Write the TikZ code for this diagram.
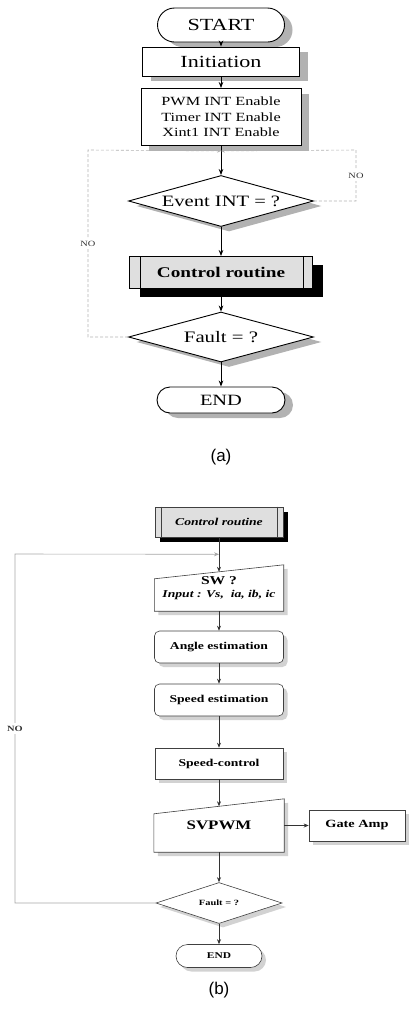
\documentclass[tikz,border=0pt]{standalone}
\usepackage{fontspec}
\setmainfont{Liberation Serif}[FakeStretch=1.3]
\newfontfamily\capfont{Liberation Sans}
\usetikzlibrary{positioning,shapes.geometric,shapes.misc,shadows,arrows.meta,calc,backgrounds}

\tikzset{
  base/.style={draw, line width=0.9pt, fill=white, inner sep=0pt, align=center},
  gshadow/.style={drop shadow={shadow xshift=8pt, shadow yshift=-5pt, fill=gray!60, opacity=1}},
  terminal/.style={base, gshadow, rounded rectangle},
  process/.style={base, gshadow, rectangle},
  decision/.style={base, gshadow, diamond, aspect=3.6},
  routine/.style={base, rectangle, fill=gray!25, drop shadow={shadow xshift=10pt, shadow yshift=-8pt, fill=black, opacity=1}},
  flow/.style={-{Stealth[length=6pt,width=4.5pt]}, line width=0.8pt},
  back/.style={-{Stealth[length=4pt,width=3.5pt]}, draw=gray!60, line width=0.6pt, densely dashed},
  nolabel/.style={fill=white, inner sep=3pt, text=black!80, font=\fontsize{8}{9}\selectfont},
  % part (b)
  bline/.style={draw=black!75, line width=0.6pt},
  lshadow/.style={drop shadow={shadow xshift=4pt, shadow yshift=-4pt, fill=gray!35, opacity=1}},
  bbase/.style={bline, fill=white, inner sep=0pt, align=center, font=\bfseries\fontsize{10.5}{12}\selectfont},
  bproc/.style={bbase, lshadow, rectangle, minimum width=129pt, minimum height=32pt},
  bdecision/.style={bbase, lshadow, diamond, aspect=3},
  bterminal/.style={bbase, lshadow, rounded rectangle},
  broutine/.style={bbase, fill=gray!25, drop shadow={shadow xshift=5pt, shadow yshift=-5pt, fill=black, opacity=1}},
  manual/.style={rectangle, inner sep=0pt, align=center, font=\bfseries\fontsize{10.5}{12}\selectfont},
  bflow/.style={-{Stealth[length=5pt,width=4pt]}, draw=black!80, line width=0.6pt},
  bback/.style={-{Stealth[length=5pt,width=4pt]}, draw=gray!70, line width=0.6pt},
  caption/.style={font=\capfont\fontsize{17}{20}\selectfont}
}

\begin{document}
\begin{tikzpicture}[x=1pt,y=-1pt,on grid]
  \useasboundingbox (0,0) rectangle (408,1010);

  % (a) main loop
  \node[terminal, minimum width=127pt, minimum height=34pt, font=\fontsize{17}{20}\selectfont] (start) at (221,25) {START};
  \node[process, minimum width=157pt, minimum height=29pt, font=\fontsize{17}{20}\selectfont, below=36.5pt of start] (init) {Initiation};
  \node[process, minimum width=160pt, minimum height=57pt, font=\fontsize{12.5}{15.3}\selectfont, below=55.5pt of init] (inten) {PWM INT Enable\\Timer INT Enable\\Xint1 INT Enable};
  \node[decision, minimum width=185pt, minimum height=51pt, font=\fontsize{15.8}{18}\selectfont, below=84pt of inten] (event) {Event INT = ?};
  \node[routine, minimum width=183pt, minimum height=32pt, font=\bfseries\fontsize{14.8}{17}\selectfont, below=71.5pt of event] (ctrla) {Control routine};
  \node[decision, minimum width=185pt, minimum height=50pt, font=\fontsize{16}{18}\selectfont, below=64.5pt of ctrla] (faulta) {Fault = ?};
  \node[terminal, minimum width=128pt, minimum height=26pt, font=\fontsize{15.7}{18}\selectfont, below=63pt of faulta] (enda) {END};
  \node[caption, below=57pt of enda] (capa) {(a)};
  \draw[line width=0.9pt] ([xshift=11pt]ctrla.north west) -- ([xshift=11pt]ctrla.south west)
    ([xshift=-10pt]ctrla.north east) -- ([xshift=-10pt]ctrla.south east);

  \coordinate (juna) at ([yshift=-5pt]inten.south);
  \coordinate (loopl) at (88,150);
  \coordinate (loopr) at (356,150);
  \draw[flow] (start) -- (init);
  \draw[flow] (init) -- (inten);
  \draw[flow] (inten) -- (event);
  \draw[flow] (event) -- (ctrla);
  \draw[flow] (ctrla) -- (faulta);
  \draw[flow] (faulta) -- (enda);
  \draw[back] (faulta.west) -| node[pos=0.75, nolabel] {NO} (loopl) -- (juna);
  \draw[back] (event.east) -| node[pos=0.75, nolabel] {NO} (loopr) -- (juna);

  % (b) control routine
  \node[broutine, minimum width=128pt, minimum height=30pt] (ctrlb) at (219,522) {\itshape Control routine};
  \draw[bline] ([xshift=7pt]ctrlb.north west) -- ([xshift=7pt]ctrlb.south west)
    ([xshift=-6pt]ctrlb.north east) -- ([xshift=-6pt]ctrlb.south east);
  \node[manual, minimum width=129pt, minimum height=46pt, below=66pt of ctrlb] (sw)
    {{\fontsize{12}{14}\selectfont SW ?}\\[1pt]\itshape Input : Vs,\ \ ia, ib, ic};
  \node[bproc, rounded corners=5pt, below=59pt of sw] (angle) {Angle estimation};
  \node[bproc, rounded corners=5pt, below=53pt of angle] (speedest) {Speed estimation};
  \node[bproc, minimum width=128pt, minimum height=31pt, below=63.5pt of speedest] (speedctl) {Speed-control};
  \node[manual, minimum width=130pt, minimum height=53pt, font=\bfseries\fontsize{13}{15}\selectfont, below=62pt of speedctl] (svpwm) {SVPWM};
  \node[bproc, minimum width=96pt, minimum height=31pt, font=\bfseries\fontsize{11}{13}\selectfont, right=138pt of svpwm] (gate) {Gate Amp};
  \node[bdecision, minimum width=126pt, minimum height=41pt, font=\bfseries\fontsize{8}{9}\selectfont, below=77.5pt of svpwm] (faultb) {Fault = ?};
  \node[bterminal, minimum width=86pt, minimum height=23pt, font=\bfseries\fontsize{8.8}{10}\selectfont, below=53pt of faultb] (endb) {END};
  \node[caption, below=34pt of endb] (capb) {(b)};

  \begin{scope}[on background layer]
    \fill[gray!35] ([xshift=4pt,yshift=-4pt]sw.south west) -- ([xshift=4pt,yshift=-18pt]sw.north west)
      -- ([xshift=4pt,yshift=-4pt]sw.north east) -- ([xshift=4pt,yshift=-4pt]sw.south east) -- cycle;
    \draw[bline, fill=white] (sw.south west) -- ([yshift=-14pt]sw.north west) -- (sw.north east) -- (sw.south east) -- cycle;
    \fill[gray!35] ([xshift=4pt,yshift=-4pt]svpwm.south west) -- ([xshift=4pt,yshift=-19pt]svpwm.north west)
      -- ([xshift=4pt,yshift=-4pt]svpwm.north east) -- ([xshift=4pt,yshift=-4pt]svpwm.south east) -- cycle;
    \draw[bline, fill=white] (svpwm.south west) -- ([yshift=-15pt]svpwm.north west) -- (svpwm.north east) -- (svpwm.south east) -- cycle;
  \end{scope}

  \coordinate (swin) at ([yshift=-7pt]sw.north);
  \coordinate (svin) at ([yshift=-7.5pt]svpwm.north);
  \coordinate (junb) at ([yshift=-17pt]ctrlb.south);
  \coordinate (loopb) at (15,554);
  \draw[bflow] (ctrlb) -- (swin);
  \draw[bflow] (sw) -- (angle);
  \draw[bflow] (angle) -- (speedest);
  \draw[bflow] (speedest) -- (speedctl);
  \draw[bflow] (speedctl) -- (svin);
  \draw[bflow] (svpwm) -- (gate);
  \draw[bflow] (svpwm) -- (faultb);
  \draw[bflow] (faultb) -- (endb);
  \draw[bback] (faultb.west) -| node[pos=0.75, nolabel, font=\bfseries\fontsize{8}{9}\selectfont] {NO} (loopb) -- (junb);
\end{tikzpicture}
\end{document}
